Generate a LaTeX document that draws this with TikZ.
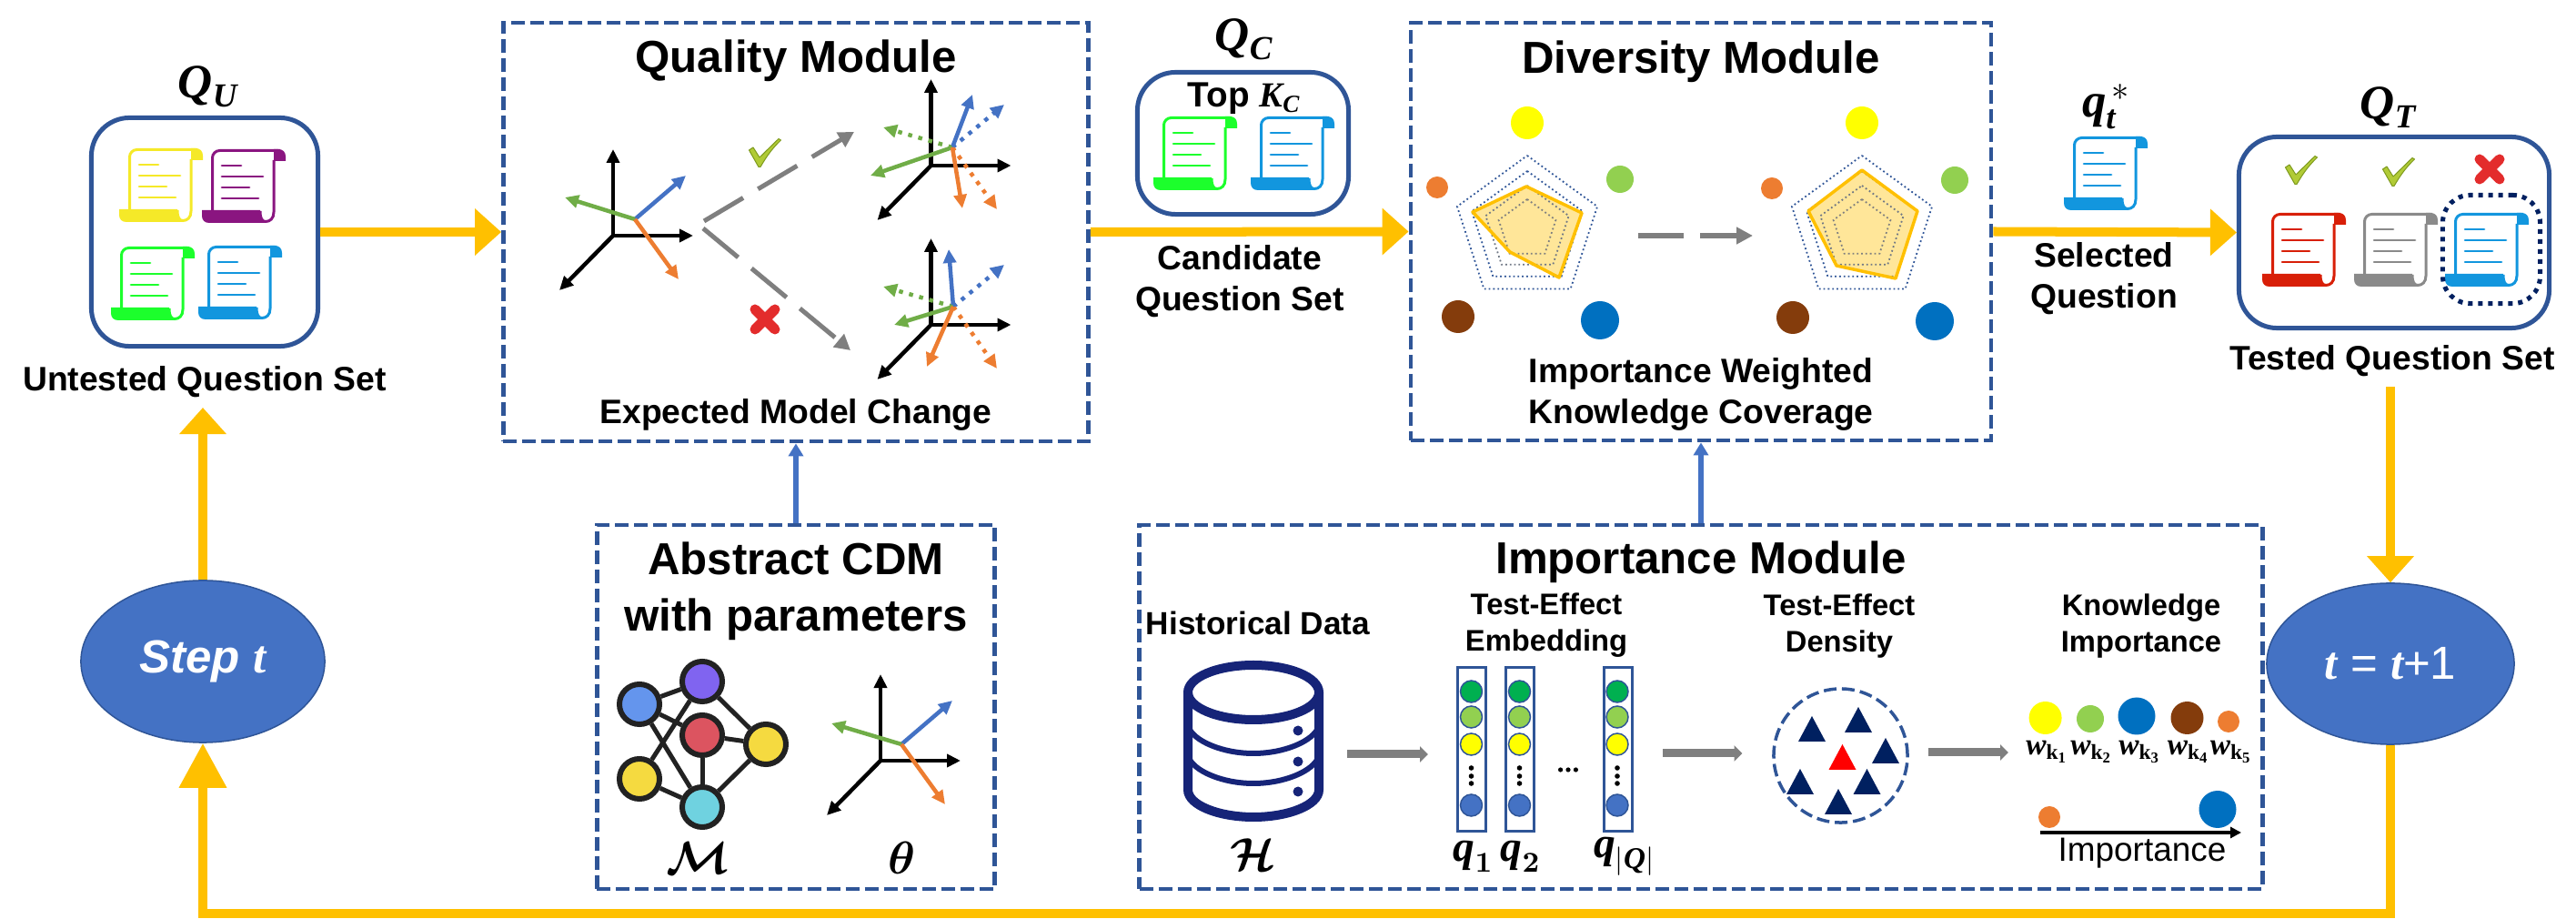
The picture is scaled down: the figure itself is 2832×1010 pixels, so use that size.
\documentclass[tikz,border=0pt]{standalone}
\usepackage{amsmath}
\usepackage{bm}
\usepackage[no-math]{fontspec}
\setmainfont{Liberation Sans}
\newfontfamily\symfont{Liberation Serif}
\usetikzlibrary{arrows.meta,shapes.geometric}

\newcommand{\mvar}[1]{\text{\symfont\bfseries\itshape #1}}
\newcommand{\mupr}[1]{\text{\symfont\bfseries #1}}

\definecolor{frameBlue}{HTML}{2F5597}
\definecolor{flowAmber}{HTML}{FFC000}
\definecolor{feedBlue}{HTML}{4472C4}
\definecolor{arrowGray}{HTML}{7F7F7F}
\definecolor{navyInk}{HTML}{002060}
\definecolor{dbInk}{HTML}{162478}
\definecolor{vecGreen}{HTML}{70AD47}
\definecolor{vecOrange}{HTML}{ED7D31}
\definecolor{scrollYellow}{HTML}{F5E928}
\definecolor{scrollPurple}{HTML}{8A1580}
\definecolor{scrollGreen}{HTML}{1CFF2C}
\definecolor{scrollBlue}{HTML}{1296DE}
\definecolor{scrollRed}{HTML}{D81F08}
\definecolor{scrollGray}{HTML}{8A8A8A}
\definecolor{kYellow}{HTML}{FFFF00}
\definecolor{kGreen}{HTML}{92D050}
\definecolor{kDeep}{HTML}{00B050}
\definecolor{kOrange}{HTML}{ED7D31}
\definecolor{kBrown}{HTML}{843C0C}
\definecolor{kBlue}{HTML}{0070C0}
\definecolor{radarFill}{HTML}{FFE699}
\definecolor{netInk}{HTML}{222222}
\definecolor{netBlue}{HTML}{6495ED}
\definecolor{netPurple}{HTML}{8064F0}
\definecolor{netRed}{HTML}{DC5460}
\definecolor{netYellow}{HTML}{F5DA40}
\definecolor{netCyan}{HTML}{6FD2E0}
\definecolor{tickGreen}{HTML}{B1CB36}
\definecolor{tickEdge}{HTML}{7E9A1F}
\definecolor{crossRed}{HTML}{E32C2C}

\tikzset{
  titletext/.style={inner sep=0pt, align=center, font=\fontsize{14}{17.6}\selectfont\bfseries},
  labeltext/.style={inner sep=0pt, align=center, font=\fontsize{10.6}{12.8}\selectfont\bfseries},
  smalltext/.style={inner sep=0pt, align=center, font=\fontsize{9.3}{11.5}\selectfont\bfseries},
  mathtext/.style={inner sep=0pt, font=\fontsize{15}{17}\selectfont},
  setbox/.style={draw=frameBlue, line width=.05cm, rounded corners=.42cm, inner sep=0pt},
  modulebox/.style={draw=frameBlue, line width=.045cm, inner sep=0pt, dash pattern=on .15cm off .06cm},
  stepnode/.style={ellipse, draw=frameBlue, fill=feedBlue, line width=.015cm, inner sep=0pt,
    text=white, font=\fontsize{14.5}{16}\selectfont},
  flow/.style={draw=flowAmber, line width=.1cm, -{Triangle[length=.29cm,width=.5cm]}},
  feed/.style={draw=feedBlue, line width=.06cm, -{Triangle[length=.14cm,width=.16cm]}},
  grayarrow/.style={draw=arrowGray, line width=.09cm, -{Triangle[length=.09cm,width=.17cm]}},
  graydash/.style={draw=arrowGray, line width=.05cm, dash pattern=on .5cm off .19cm,
    -{Triangle[length=.17cm,width=.18cm]}},
  vec/.style={line width=.045cm, -{Triangle[length=.15cm,width=.14cm]}},
  vecdot/.style={vec, dash pattern=on .045cm off .07cm},
  netnode/.style={circle, draw=netInk, line width=.06cm, minimum size=.44cm, inner sep=0pt},
  colbox/.style={draw=frameBlue, line width=.03cm, minimum width=.31cm, minimum height=1.79cm, inner sep=0pt},
  qlabel/.style={inner sep=0pt, font=\fontsize{13.5}{15}\selectfont},
  % scroll icon, origin at its top left corner
  pics/scroll/.style={code={
    \draw[draw=#1, line width=.03cm, rounded corners=.08cm] (11.5,68) -- (11.5,1.5) -- (86,1.5);
    \draw[draw=#1, line width=.03cm] (79,12) -- (79,69) .. controls (79,76) and (75,79.5) .. (70,79.5)
      .. controls (66,79.5) and (64,76) .. (64,68);
    \fill[fill=#1] (0,67) -- (64,67) -- (64,72) .. controls (64,77) and (67,79) .. (70,81)
      -- (8,81) .. controls (3,81) and (0,78) .. (0,73) -- cycle;
    \fill[fill=#1] (79,0) -- (84,0) .. controls (89,0) and (92,3) .. (92,8) -- (92,13) -- (79,13) -- cycle;
    \foreach \xb/\yl in {43/18, 67/30, 52/42, 62/54} {
      \draw[draw=#1, line width=.027cm, line cap=round] (22,\yl) -- (\xb,\yl);
    }
  }},
  % check and cross marks, origin at their centre
  pics/tick/.style={code={
    \draw[fill=tickGreen, draw=tickEdge, line width=.01cm, line join=round]
      (-17.5,-3) -- (-13,-6) -- (-6,5) -- (15,-15.5) -- (17.5,-14) .. controls (6,-3) and (0,7) .. (-5,15.5) -- (-7,15.5) -- cycle;
  }},
  pics/crossmark/.style={code={
    \draw[crossRed, line width=.11cm, line cap=round] (-11,-11) -- (11,11) (-11,11) -- (11,-11);
  }},
  pics/axesframe/.style={code={
    \draw[vec, black] (0,0) -- (0,-95);
    \draw[vec, black] (0,0) -- (88,0);
    \draw[vec, black] (0,0) -- (-59,60);
  }},
  % dotted rings of the radar chart, origin at the centre
  pics/radarrings/.style={code={
    \foreach \r/\col in {81/frameBlue, 64/frameBlue, 48/arrowGray!80!frameBlue, 33/arrowGray} {
      \draw[draw=\col, line width=.018cm, dash pattern=on .018cm off .03cm]
        (-90:\r) -- (-18:\r) -- (54:\r) -- (126:\r) -- (198:\r) -- cycle;
    }
  }},
}

\begin{document}
\begin{tikzpicture}[x=.01cm, y=-.01cm]
    \useasboundingbox (0,0) rectangle (2832,1010);

    % --- MODULE FRAMES ---
    \node[modulebox, minimum width=6.43cm, minimum height=4.6cm] (quality) at (875,255) {};
    \node[modulebox, minimum width=6.38cm, minimum height=4.59cm] (diversity) at (1870,254.5) {};
    \node[modulebox, minimum width=4.37cm, minimum height=4cm] (abstract) at (875,777) {};
    \node[modulebox, minimum width=12.34cm, minimum height=4cm] (importance) at (1870,777) {};

    % --- QUESTION SETS ---
    \node[setbox, minimum width=2.49cm, minimum height=2.51cm] (setU) at (225,255) {};
    \node[setbox, minimum width=2.32cm, minimum height=1.56cm] (setC) at (1366.5,157.5) {};
    \node[setbox, minimum width=3.41cm, minimum height=2.1cm] (setT) at (2632,255.5) {};

    \node[mathtext] (labelU) at (229,95) {$\mvar{Q}_{\mvar{U}}$};
    \node[mathtext] (labelC) at (1368,43) {$\mvar{Q}_{\mvar{C}}$};
    \node[mathtext] (labelT) at (2626,118) {$\mvar{Q}_{\mvar{T}}$};
    \node[mathtext] (labelStar) at (2316,117) {$\mvar{q}_{\mvar{t}}^{\,*}$};
    \node[labeltext, font=\fontsize{11}{13}\selectfont\bfseries] (topK) at (1368,108) {Top $\mvar{K}_{\mvar{C}}$};

    \foreach \px/\py/\col in {131/163/scrollYellow, 222/164/scrollPurple, 122/271/scrollGreen, 218/270/scrollBlue,
        1268/128/scrollGreen, 1375/128/scrollBlue, 2269/150/scrollBlue,
        2487/234/scrollRed, 2588/234/scrollGray, 2688/234/scrollBlue} {
        \pic at (\px,\py) {scroll=\col};
    }
    \pic at (2530,187) {tick};
    \pic at (2637,189) {tick};
    \pic at (2737,186) {crossmark};
    \node[draw=navyInk, line width=.05cm, dash pattern=on .05cm off .06cm, rounded corners=.3cm,
        minimum width=1.07cm, minimum height=1.19cm, inner sep=0pt] (pickedBox) at (2739,274) {};

    \node[labeltext] (untested) at (225,420) {Untested Question Set};
    \node[labeltext] (candidate) at (1363,309) {Candidate\\Question Set};
    \node[labeltext] (selected) at (2313,306) {Selected\\Question};
    \node[labeltext] (tested) at (2630,397) {Tested Question Set};

    % --- QUALITY MODULE ---
    \node[titletext] (qualityTitle) at (875,67) {Quality Module};
    \node[labeltext] (qualityNote) at (875,456) {Expected Model Change};

    \pic at (674,259) {axesframe};
    \coordinate (vq) at (698,241);
    \foreach \tx/\ty/\col in {754/193/feedBlue, 621/217/vecGreen, 746/307/vecOrange} {
        \draw[vec, draw=\col] (vq) -- (\tx,\ty);
    }

    % upper candidate
    \pic at (1023.5,182) {axesframe};
    \coordinate (vu) at (1047,162);
    \foreach \tx/\ty/\col in {1104/115/feedBlue, 971/140/vecGreen, 1096/230/vecOrange} {
        \draw[vecdot, draw=\col] (vu) -- (\tx,\ty);
    }
    \foreach \tx/\ty/\col in {1069/104/feedBlue, 957/193/vecGreen, 1058/229/vecOrange} {
        \draw[vec, draw=\col] (vu) -- (\tx,\ty);
    }

    % lower candidate
    \pic at (1023.5,357) {axesframe};
    \coordinate (vl) at (1048,337);
    \foreach \tx/\ty/\col in {1104/291/feedBlue, 971/315/vecGreen, 1096/405/vecOrange} {
        \draw[vecdot, draw=\col] (vl) -- (\tx,\ty);
    }
    \foreach \tx/\ty/\col in {1043/274/feedBlue, 983/357/vecGreen, 1019/403/vecOrange} {
        \draw[vec, draw=\col] (vl) -- (\tx,\ty);
    }

    \coordinate (splitUp) at (774,243);
    \coordinate (splitDown) at (773,251);
    \coordinate (upEnd) at (939,145);
    \coordinate (downEnd) at (935,385);
    \draw[graydash] (splitUp) -- (upEnd);
    \draw[graydash] (splitDown) -- (downEnd);
    \pic at (841,168) {tick};
    \pic at (841,351) {crossmark};

    % --- DIVERSITY MODULE ---
    \node[titletext] (diversityTitle) at (1870,68) {Diversity Module};
    \node[labeltext] (diversityNote) at (1870,433) {Importance Weighted\\Knowledge Coverage};

    \fill[fill=radarFill] (1678,205) -- (1739,234) -- (1714,305) -- (1660,277) -- (1619,233) -- cycle;
    \pic at (1679,252) {radarrings};
    \draw[draw=flowAmber, line width=.035cm, line join=round]
        (1678,205) -- (1739,234) -- (1714,305) -- (1660,277) -- (1619,233) -- cycle;
    \fill[fill=radarFill] (2047,187) -- (2108,232) -- (2084,306) -- (2019,292) -- (1988,232) -- cycle;
    \pic at (2047,252) {radarrings};
    \draw[draw=flowAmber, line width=.035cm, line join=round]
        (2047,187) -- (2108,232) -- (2084,306) -- (2019,292) -- (1988,232) -- cycle;

    \foreach \cx/\cy/\r/\col in {1679/135/18/kYellow, 1781/197/15/kGreen, 1580/206/12/kOrange,
        1603/348/18/kBrown, 1759/352/21/kBlue,
        2047/135/18/kYellow, 2149/198/15/kGreen, 1948/207/12/kOrange,
        1971/349/18/kBrown, 2127/353/21/kBlue} {
        \fill[fill=\col] (\cx,\cy) circle (\r);
    }

    \coordinate (radarOut) at (1801,259);
    \coordinate (radarIn) at (1927,259);
    \draw[grayarrow, dash pattern=on .5cm off .18cm, line width=.065cm,
        -{Triangle[length=.18cm,width=.18cm]}] (radarOut) -- (radarIn);

    % --- ABSTRACT CDM ---
    \node[titletext] (abstractTitle) at (875,650) {Abstract CDM\\with parameters};

    \node[netnode, fill=netBlue] (nBlue) at (703,774) {};
    \node[netnode, fill=netPurple] (nPurple) at (772,749) {};
    \node[netnode, fill=netRed] (nRed) at (772,808) {};
    \node[netnode, fill=netYellow] (nRight) at (842,818) {};
    \node[netnode, fill=netYellow] (nLeft) at (703,856) {};
    \node[netnode, fill=netCyan] (nCyan) at (772,887) {};
    \foreach \a/\b in {nBlue/nPurple, nBlue/nRed, nBlue/nCyan, nPurple/nLeft, nPurple/nRight,
        nRed/nRight, nRed/nCyan, nRight/nCyan, nLeft/nCyan} {
        \draw[draw=netInk, line width=.05cm] (\a) -- (\b);
    }
    \node[mathtext] (labelModel) at (767,943) {$\bm{\mathcal{M}}$};

    \pic at (968,836) {axesframe};
    \coordinate (va) at (991,818);
    \foreach \tx/\ty/\col in {1047/770/feedBlue, 914/795/vecGreen, 1039/884/vecOrange} {
        \draw[vec, draw=\col] (va) -- (\tx,\ty);
    }
    \node[mathtext] (labelTheta) at (992,943) {$\bm{\theta}$};

    % --- IMPORTANCE MODULE ---
    \node[titletext] (importanceTitle) at (1870,618) {Importance Module};
    \node[smalltext, font=\fontsize{10}{12}\selectfont\bfseries] (historical) at (1383,685) {Historical Data};
    \node[smalltext] (embedding) at (1700,687) {Test-Effect\\Embedding};
    \node[smalltext] (density) at (2022,688) {Test-Effect\\Density};
    \node[smalltext] (knowledge) at (2354,688) {Knowledge\\Importance};

    % database drum
    \node[inner sep=0pt, minimum size=0pt] (dbTop) at (1378,761) {};
    \draw[draw=dbInk, line width=.1cm] (dbTop) ellipse (72 and 30);
    \draw[draw=dbInk, line width=.1cm] (1306,761) -- (1306,868) .. controls (1306,885) and (1340,898) .. (1378,898)
        .. controls (1416,898) and (1450,885) .. (1450,868) -- (1450,761);
    \foreach \yb in {798, 831} {
        \draw[draw=dbInk, line width=.06cm] (1306,\yb) .. controls (1312,\yb+17) and (1345,\yb+30) .. (1378,\yb+30)
            .. controls (1411,\yb+30) and (1444,\yb+17) .. (1450,\yb);
    }
    \foreach \yd in {803, 837, 870} {
        \fill[fill=dbInk] (1427,\yd) circle (5.5);
    }
    \node[mathtext] (labelHist) at (1377,939) {$\bm{\mathcal{H}}$};

    \coordinate (dbOut) at (1481,829);
    \coordinate (colIn) at (1570,829);
    \draw[grayarrow] (dbOut) -- (colIn);

    % embedding columns
    \node[colbox] (colA) at (1617.5,823.5) {};
    \node[colbox] (colB) at (1670.5,823.5) {};
    \node[colbox] (colC) at (1778.5,823.5) {};
    \foreach \cx in {1617.5, 1670.5, 1778} {
        \foreach \cy/\col in {760/kDeep, 788/kGreen, 818/kYellow, 885/feedBlue} {
            \draw[draw=frameBlue, line width=.015cm, fill=\col] (\cx,\cy) circle (12);
        }
        \foreach \cy in {844, 853, 861} {
            \fill (\cx,\cy) circle (2.8);
        }
    }
    \foreach \cx in {1715.6, 1724, 1732.4} {
        \fill (\cx,846) circle (2.6);
    }
    \node[qlabel] (labelA) at (1620,941) {$\mvar{q}_{\mathbf{1}}$};
    \node[qlabel] (labelB) at (1672,941) {$\mvar{q}_{\mathbf{2}}$};
    \node[qlabel] (labelLast) at (1786,941) {$\mvar{q}_{|\mvar{Q}|}$};

    \coordinate (colOut) at (1828,828);
    \coordinate (densIn) at (1915.5,828);
    \draw[grayarrow] (colOut) -- (densIn);

    % density cluster
    \node[circle, draw=frameBlue, line width=.035cm, dash pattern=on .14cm off .06cm,
        minimum size=1.47cm, inner sep=0pt] (cluster) at (2023.5,830.5) {};
    \foreach \tx/\ty/\col in {1992/787/navyInk, 2043/777/navyInk, 2073/811/navyInk, 2025.5/818/red,
        1979/845/navyInk, 2052.5/845/navyInk, 2021/867/navyInk} {
        \fill[fill=\col] (\tx,\ty) -- (\tx+15,\ty+28) -- (\tx-15,\ty+28) -- cycle;
    }

    \coordinate (densOut) at (2120,827);
    \coordinate (weightIn) at (2208,827);
    \draw[grayarrow] (densOut) -- (weightIn);

    % knowledge weights
    \foreach \cx/\cy/\r/\col in {2248.6/789/18/kYellow, 2298/790/15/kGreen, 2349/787/20.5/kBlue,
        2404.5/789/18/kBrown, 2450/793/12/kOrange, 2253/898/12/kOrange, 2438/889.5/20.5/kBlue} {
        \fill[fill=\col] (\cx,\cy) circle (\r);
    }
    \foreach \cx/\num in {2251/1, 2300/2, 2353/3, 2406.5/4, 2453.5/5} {
        \node[inner sep=0pt, font=\fontsize{9.5}{11}\selectfont] (w\num) at (\cx,826) {$\mvar{w}_{\mupr{k}_{\mupr{\num}}}$};
    }
    \coordinate (scaleStart) at (2242.5,915);
    \coordinate (scaleEnd) at (2464,915);
    \draw[draw=black, line width=.033cm, -{Triangle[length=.12cm,width=.12cm]}] (scaleStart) -- (scaleEnd);
    \node[inner sep=0pt, font=\fontsize{10.5}{12}\selectfont] (scaleText) at (2355,938) {Importance};

    % --- STEP NODES AND LOOP ---
    \node[stepnode, minimum width=2.68cm, minimum height=1.78cm] (stepNode) at (223,727)
        {\bfseries\itshape Step $\mvar{t}$};
    \node[stepnode, minimum width=2.72cm, minimum height=1.77cm] (incNode) at (2628,729.5)
        {$\mvar{t}$ = $\mvar{t}$+1};

    \coordinate (untestedIn) at (stepNode.north |- 0,448);
    \coordinate (testedOut) at (incNode.north |- 0,425);
    \coordinate (loopRight) at (incNode.south |- 0,1004);
    \coordinate (loopLeft) at (stepNode.south |- 0,1004);

    % --- CONNECTORS ---
    \draw[flow] (setU.east) -- (quality.west);
    \draw[flow] (quality.east) -- (diversity.west);
    \draw[flow] (diversity.east) -- (setT.west);
    \draw[flow] (testedOut) -- (incNode.north);
    \draw[flow] (stepNode.north) -- (untestedIn);
    \draw[flow, -{Triangle[length=.49cm,width=.5cm]}] (incNode.south) -- (loopRight) -- (loopLeft) -- (stepNode.south);
    \draw[feed] (abstract.north) -- (quality.south);
    \draw[feed] (importance.north) -- (diversity.south);

\end{tikzpicture}
\end{document}
